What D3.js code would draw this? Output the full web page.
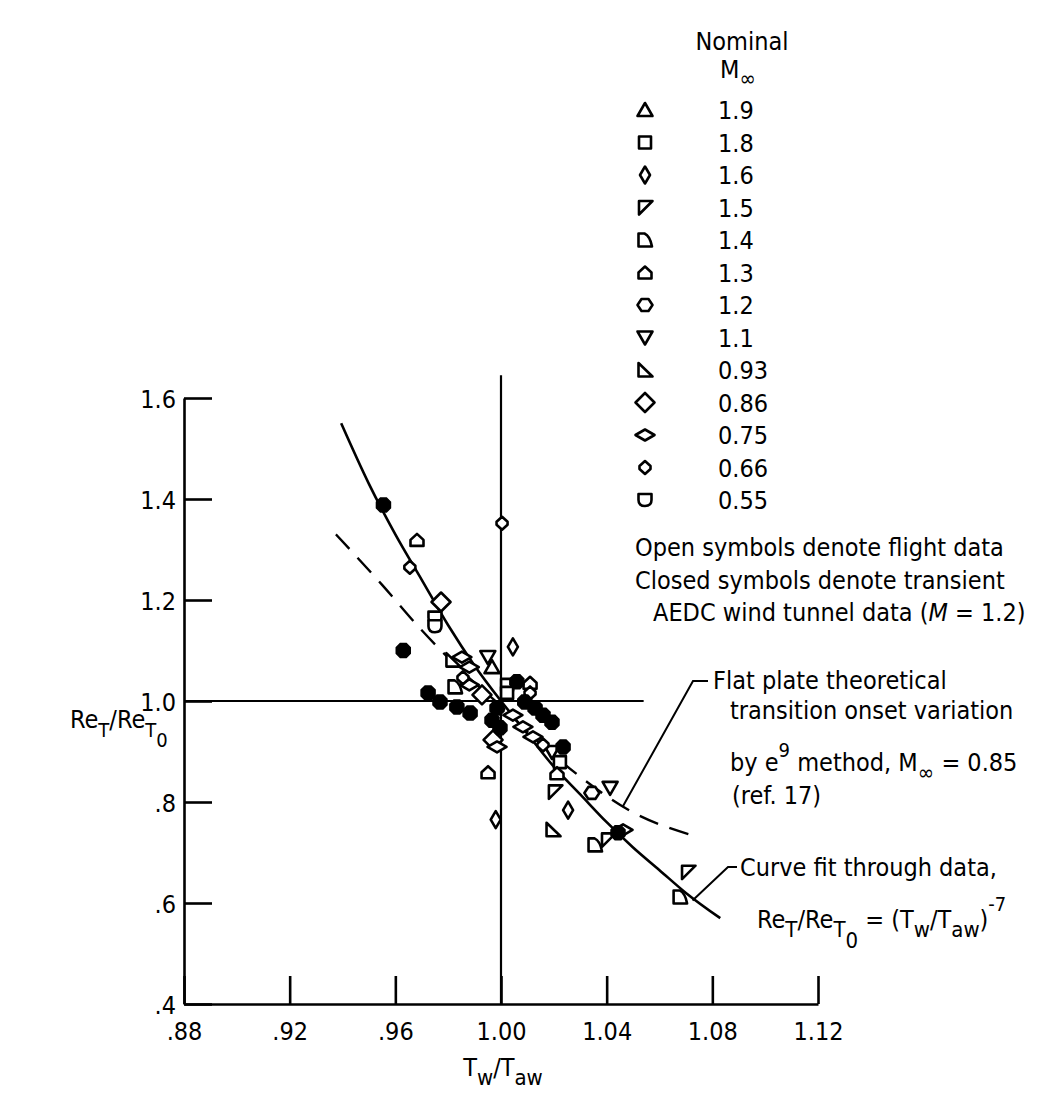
<!DOCTYPE html>
<html><head><meta charset="utf-8">
<script src="https://cdn.jsdelivr.net/npm/d3@7"></script>
<style>
body{margin:0;background:#fff}
svg{display:block}
text{font-family:"DejaVu Sans Condensed","DejaVu Sans",sans-serif;font-size:25px;fill:#000}
</style>
</head><body>
<svg id="c" width="1043" height="1096"></svg>
<script>
// ---- data ----
const xTicks=[0.88,0.92,0.96,1.00,1.04,1.08,1.12];
const xTickLabels=['.88','.92','.96','1.00','1.04','1.08','1.12'];
const yTicks=[0.4,0.6,0.8,1.0,1.2,1.4,1.6];
const yTickLabels=['.4','.6','.8','1.0','1.2','1.4','1.6'];
const machLabels=['1.9','1.8','1.6','1.5','1.4','1.3','1.2','1.1','0.93','0.86','0.75','0.66','0.55'];
const machShapes=['tri','sq','dia16','tri15','d14','house','hex','itri','tri093','dia086','dia075','dia066','cup'];
// curve fit Re_T/Re_T0 = (Tw/Taw)^-7
const fitX=[0.9395,0.95,0.96,0.97,0.98,0.99,1.00,1.01,1.02,1.03,1.04,1.05,1.06,1.07,1.083];
const fitY=[1.55,1.43,1.33,1.24,1.15,1.07,1.00,0.935,0.87,0.815,0.76,0.71,0.665,0.62,0.57];
// flat plate theory (dashed)
const theoX=[0.9375,0.955,0.97,0.985,1.00,1.015,1.03,1.048,1.075];
const theoY=[1.33,1.23,1.14,1.06,0.99,0.915,0.85,0.785,0.73];
// flight data, per nominal Mach number
const m19=[[0.9966,1.067]];
const m18=[[1.0023,1.032],[1.0023,1.016],[1.0223,0.879]];
const m16=[[1.0045,1.107],[0.998,0.765],[1.0254,0.784]];
const m15=[[1.0204,0.82],[1.0405,0.725],[1.0708,0.661]];
const m14=[[0.9826,1.028],[1.0356,0.715],[1.0678,0.612]];
const m13=[[0.9682,1.319],[1.011,1.036],[0.9951,0.859],[1.0212,0.857]];
const m12=[[1.0344,0.818]];
const m11=[[0.995,1.087],[1.0193,0.899],[1.0413,0.828]];
const m093=[[0.9818,1.081],[1.0197,0.745]];
const m086=[[0.9773,1.196],[0.997,0.923],[0.9928,1.012]];
const m075=[[0.9852,1.087],[0.988,1.067],[1.0045,0.972],[1.0083,0.949],[1.0121,0.929],[0.9985,0.909],[1.0462,0.745],[0.988,1.032]];
const m066=[[0.9655,1.265],[1.0004,1.352],[1.011,1.016],[1.0159,0.913],[0.9856,1.046]];
const m055=[[0.975,1.165],[0.975,1.148]];
// AEDC transient wind tunnel data (closed symbols)
const aedc=[[0.9555,1.388],[0.963,1.10],[0.9724,1.016],[0.9769,0.998],[0.9833,0.988],[0.9883,0.976],[0.9966,0.962],[0.9985,0.986],[0.9996,0.947],[1.006,1.038],[1.009,0.998],[1.0129,0.986],[1.0159,0.972],[1.0193,0.958],[1.0235,0.909],[1.0443,0.739]];
const flightSets=[m19,m18,m16,m15,m14,m13,m12,m11,m093,m086,m075,m066,m055];

// ---- symbols ----
const SHAPES={
 tri:'M0,-7L7.5,6L-7.5,6Z',
 sq:'M-6,-6H6V6H-6Z',
 dia16:'M0,-8.5L5,0L0,8.5L-5,0Z',
 tri15:'M-6,-6.5L7.5,-6.5L-6,7Z',
 d14:'M-6.5,-6.5L-0.5,-6.5Q5,-4 7,6.5L-6.5,6.5Z',
 house:'M-6.5,6L6.5,6L6.5,0L0,-6L-6.5,0Z',
 hex:'M-7.5,0L-3.5,-6L3.5,-6L7.5,0L3.5,6L-3.5,6Z',
 itri:'M-7.5,-6L7.5,-6L0,7Z',
 tri093:'M-6.5,-7L7.5,6.5L-6.5,6.5Z',
 dia086:'M0,-9.5L9.5,0L0,9.5L-9.5,0Z',
 dia075:'M-9.5,0L0,-5.5L9.5,0L0,5.5Z',
 dia066:'M0,-6.5L5.5,-1.5L5.5,1.5L0,6.5L-5.5,1.5L-5.5,-1.5Z',
 cup:'M-6.5,-6L6.5,-6L6.5,0Q6.5,6 0,6Q-6.5,6 -6.5,0Z',
 oct:'M-3,-7L3,-7L7,-3L7,3L3,7L-3,7L-7,3L-7,-3Z'
};

const svg=d3.select('#c');
const x=d3.scaleLinear().domain([0.88,1.12]).range([184,818]);
const y=d3.scaleLinear().domain([0.4,1.6]).range([1004,398]);
const SW=2.6;

// ---- axes ----
const xAx=d3.axisBottom(x).tickValues(xTicks).tickSize(-28).tickSizeOuter(0).tickPadding(18)
  .tickFormat((d,i)=>xTickLabels[i]);
const gx=svg.append('g').attr('transform',`translate(0,${y(0.4)})`).call(xAx);
const yAx=d3.axisLeft(y).tickValues(yTicks).tickSize(-28).tickSizeOuter(0).tickPadding(8)
  .tickFormat((d,i)=>yTickLabels[i]);
const gy=svg.append('g').attr('transform',`translate(${x(0.88)},0)`).call(yAx);
[gx,gy].forEach(g=>{
  g.selectAll('path,line').attr('stroke','#000').attr('stroke-width',SW);
  g.selectAll('text').attr('font-size',25).attr('font-family','"DejaVu Sans Condensed","DejaVu Sans",sans-serif').attr('fill','#000');
});
gy.selectAll('.tick text').attr('dy','0.36em');

// reference lines at Tw/Taw = 1 and Re ratio = 1
const vTop=1.645, hEnd=1.054;
svg.append('line').attr('x1',x(1)).attr('x2',x(1)).attr('y1',y(0.4)).attr('y2',y(vTop))
  .attr('stroke','#000').attr('stroke-width',2.2);
svg.append('line').attr('x1',x(0.88)).attr('x2',x(hEnd)).attr('y1',y(1)).attr('y2',y(1))
  .attr('stroke','#000').attr('stroke-width',2.2);

// curves
const line=d3.line().x(d=>x(d[0])).y(d=>y(d[1])).curve(d3.curveMonotoneX);
svg.append('path').datum(theoX.map((v,i)=>[v,theoY[i]])).attr('d',line)
  .attr('fill','none').attr('stroke','#000').attr('stroke-width',2.4).attr('stroke-dasharray','20,12');
svg.append('path').datum(fitX.map((v,i)=>[v,fitY[i]])).attr('d',line)
  .attr('fill','none').attr('stroke','#000').attr('stroke-width',2.6);

// data points
flightSets.forEach((set,k)=>{
  svg.append('g').selectAll('path').data(set).join('path')
    .attr('d',SHAPES[machShapes[k]])
    .attr('transform',d=>`translate(${x(d[0])},${y(d[1])})`)
    .attr('fill','#fff').attr('stroke','#000').attr('stroke-width',SW).attr('stroke-linejoin','round');
});
svg.append('g').selectAll('path').data(aedc).join('path')
  .attr('d',SHAPES.oct)
  .attr('transform',d=>`translate(${x(d[0])},${y(d[1])})`)
  .attr('fill','#000').attr('stroke','#000').attr('stroke-width',1.5);

// ---- legend ----
const legX=645, legTX=718, legY0=110, legDY=32.5;
svg.append('text').attr('x',742).attr('y',50).attr('text-anchor','middle').text('Nominal');
const mt=svg.append('text').attr('x',720).attr('y',78);
mt.append('tspan').text('M');
mt.append('tspan').attr('dy',8).attr('font-size',22).text('∞');
machLabels.forEach((lab,i)=>{
  const yy=legY0+i*legDY;
  svg.append('path').attr('d',SHAPES[machShapes[i]]).attr('transform',`translate(${legX},${yy})`)
    .attr('fill','#fff').attr('stroke','#000').attr('stroke-width',SW).attr('stroke-linejoin','round');
  svg.append('text').attr('x',legTX).attr('y',yy+9).text(lab);
});
svg.append('text').attr('x',635).attr('y',556).text('Open symbols denote flight data');
svg.append('text').attr('x',635).attr('y',589).text('Closed symbols denote transient');
const ae=svg.append('text').attr('x',653).attr('y',621);
ae.append('tspan').text('AEDC wind tunnel data (');
ae.append('tspan').attr('font-style','italic').text('M');
ae.append('tspan').text(' = 1.2)');

// ---- annotations ----
const ann=(pts)=>svg.append('path').attr('d',d3.line()(pts)).attr('fill','none').attr('stroke','#000').attr('stroke-width',2);
ann([[708,681],[693,681],[x(1.046),y(0.79)]]);
svg.append('text').attr('x',713).attr('y',689).text('Flat plate theoretical');
svg.append('text').attr('x',730).attr('y',719).text('transition onset variation');
const be=svg.append('text').attr('x',730).attr('y',771);
be.append('tspan').text('by e');
be.append('tspan').attr('dy',-14).attr('font-size',20).text('9');
be.append('tspan').attr('dy',14).text(' method, M');
be.append('tspan').attr('dy',9).attr('font-size',22).text('∞');
be.append('tspan').attr('dy',-9).text(' = 0.85');
svg.append('text').attr('x',732).attr('y',804).text('(ref. 17)');

ann([[737,867],[728,867],[x(1.0725),y(0.605)]]);
svg.append('text').attr('x',740).attr('y',876).text('Curve fit through data,');
const cf=svg.append('text').attr('x',757).attr('y',928);
cf.append('tspan').text('Re');
cf.append('tspan').attr('dy',9).attr('font-size',22).text('T');
cf.append('tspan').attr('dy',-9).text('/Re');
cf.append('tspan').attr('dy',9).attr('font-size',22).text('T');
cf.append('tspan').attr('dy',11).attr('font-size',22).text('0');
cf.append('tspan').attr('dy',-20).text(' = (T');
cf.append('tspan').attr('dy',9).attr('font-size',22).text('w');
cf.append('tspan').attr('dy',-9).text('/T');
cf.append('tspan').attr('dy',9).attr('font-size',22).text('aw');
cf.append('tspan').attr('dy',-9).text(')');
cf.append('tspan').attr('dy',-17).attr('font-size',20).text('-7');

// ---- axis titles ----
const xt=svg.append('text').attr('x',503).attr('y',1076).attr('text-anchor','middle');
xt.append('tspan').text('T');
xt.append('tspan').attr('dy',9).attr('font-size',22).text('w');
xt.append('tspan').attr('dy',-9).text('/T');
xt.append('tspan').attr('dy',9).attr('font-size',22).text('aw');

const yt=svg.append('text').attr('x',70).attr('y',728).attr('font-size',24);
yt.append('tspan').text('Re');
yt.append('tspan').attr('dy',9).attr('font-size',20).text('T');
yt.append('tspan').attr('dy',-9).text('/Re');
yt.append('tspan').attr('dy',9).attr('font-size',20).text('T');
yt.append('tspan').attr('dy',10).attr('font-size',20).text('0');
</script>
</body></html>
